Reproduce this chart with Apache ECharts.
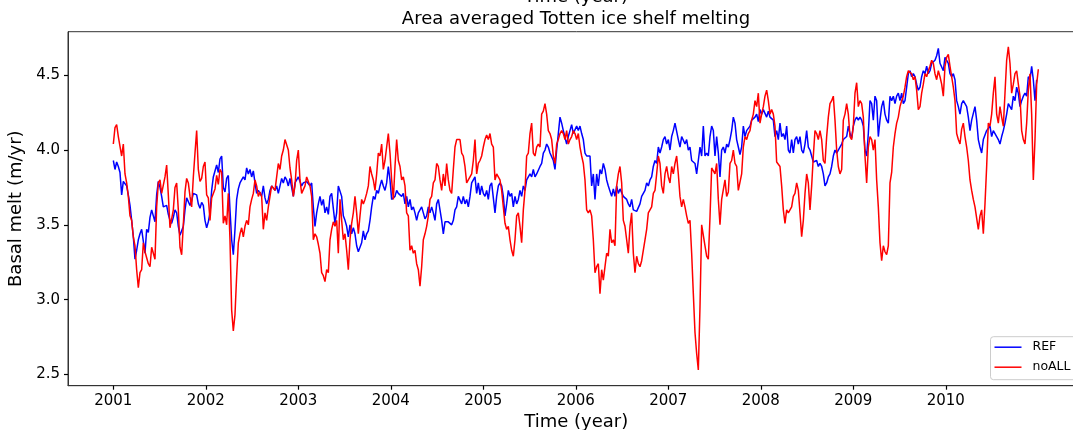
<!DOCTYPE html>
<html><head><meta charset="utf-8">
<script src="https://cdn.jsdelivr.net/npm/echarts@6/dist/echarts.min.js"></script>
<style>html,body{margin:0;padding:0;background:#fff;overflow:hidden;width:1073px;height:430px}#c{width:1095px;height:430px}</style>
</head><body><div id="c"></div>
<script>
// Sampling of the curves
const START_YEAR = 2001.0;
const STEP_YEARS = 1 / 55.5; // ~6.6 days between read samples

const refValues = [
3.93,3.87,3.92,3.89,3.85,3.70,3.79,3.80,3.76,3.70,
3.63,3.53,3.42,3.27,3.33,3.40,3.44,3.47,3.48,3.31,
3.47,3.45,3.55,3.60,3.56,3.52,3.70,3.79,3.75,3.69,
3.62,3.61,3.63,3.57,3.53,3.51,3.55,3.60,3.58,3.49,
3.43,3.42,3.49,3.60,3.68,3.69,3.63,3.66,3.71,3.72,
3.70,3.64,3.61,3.65,3.63,3.53,3.48,3.52,3.58,3.73,
3.82,3.86,3.90,3.85,
3.94,3.96,3.75,3.72,3.81,3.83,3.60,3.40,3.30,3.47,
3.67,3.74,3.78,3.77,3.82,3.80,3.88,3.84,3.87,3.82,
3.86,3.78,3.71,3.73,3.72,3.69,3.76,3.68,3.64,3.67,
3.73,3.76,3.77,3.73,3.76,3.71,3.76,3.81,3.78,3.82,
3.80,3.76,3.81,3.80,3.69,3.78,3.80,3.82,3.79,3.76,
3.78,3.77,3.79,3.78,3.76,3.78,3.62,3.49,3.58,3.64,
3.69,3.63,3.67,3.58,3.62,3.57,3.69,3.71,3.72,3.51,
3.58,3.76,
3.76,3.69,3.56,3.53,3.49,3.42,3.50,3.44,3.48,3.44,
3.36,3.32,3.33,3.38,3.46,3.40,3.44,3.46,3.53,3.62,
3.69,3.67,3.73,3.71,3.76,3.80,3.76,3.73,3.78,3.89,
3.80,3.67,3.66,3.69,3.73,3.71,3.72,3.69,3.71,3.64,
3.69,3.62,3.67,3.60,3.62,3.58,3.53,3.58,3.60,3.62,
3.58,3.54,3.56,3.62,3.58,3.62,3.58,3.53,3.64,3.67,
3.60,3.53,3.44,3.52,3.53,3.52,3.53,3.50,3.53,3.60,
3.62,3.69,
3.69,3.64,3.69,3.64,3.67,3.62,3.69,3.78,3.80,3.82,
3.71,3.78,3.70,3.76,3.71,3.69,3.73,3.67,3.76,3.78,
3.79,3.58,3.69,3.76,3.78,3.76,3.69,3.56,3.64,3.73,
3.69,3.71,3.62,3.69,3.64,3.67,3.73,3.69,3.76,3.73,
3.80,3.82,3.84,3.82,3.87,3.82,3.84,3.84,3.89,3.91,
3.98,4.00,4.04,4.02,3.98,3.97,3.93,3.87,4.00,4.11,
4.22,4.18,4.13,4.13,4.04,4.09,4.13,4.17,4.11,4.11,
4.16,4.13,
4.16,4.11,4.07,3.98,3.96,3.97,3.96,3.76,3.84,3.67,
3.84,3.76,3.87,3.84,3.91,3.87,3.80,3.76,3.76,3.69,
3.74,3.69,3.76,3.71,3.74,3.73,3.69,3.68,3.67,3.64,
3.62,3.67,3.60,3.60,3.59,3.59,3.64,3.69,3.71,3.73,
3.78,3.76,3.80,3.82,3.89,3.93,3.91,4.02,3.98,4.02,
4.07,4.09,4.04,4.07,4.00,4.09,4.13,4.18,4.19,4.07,
4.02,4.09,4.10,4.04,4.07,4.00,4.02,3.93,3.93,3.91,
3.84,3.93,
4.02,3.96,4.16,3.96,3.98,3.96,4.09,4.16,4.13,3.96,
4.09,3.98,3.82,4.00,4.02,3.98,4.04,4.02,4.07,4.13,
4.22,4.18,4.07,4.02,3.97,4.02,4.16,4.09,4.13,4.13,
4.16,4.20,4.20,4.22,4.24,4.19,4.27,4.24,4.27,4.28,
4.22,4.26,4.22,4.23,4.20,4.09,4.13,4.07,4.18,4.09,
4.11,4.07,4.16,4.00,3.98,4.07,3.98,4.07,4.09,4.04,
4.09,4.00,3.98,4.04,4.13,4.02,4.00,3.96,3.92,3.91,
3.93,3.89,
3.91,3.89,3.84,3.76,3.78,3.82,3.84,3.89,3.96,4.00,
3.98,4.00,4.02,4.04,4.07,4.08,4.09,4.16,4.11,4.08,
4.16,4.20,4.22,4.20,4.22,4.20,4.16,4.00,3.96,4.11,
4.33,4.31,4.20,4.36,4.33,4.09,4.20,4.29,4.33,4.24,
4.20,4.18,4.36,4.33,4.36,4.31,4.36,4.38,4.33,4.38,
4.31,4.33,4.42,4.51,4.53,4.49,4.51,4.49,4.44,4.40,
4.42,4.49,4.53,4.51,4.56,4.51,4.53,4.58,4.57,4.60,
4.63,4.68,
4.58,4.58,4.53,4.62,4.60,4.58,4.51,4.49,4.51,4.47,
4.33,4.29,4.24,4.31,4.33,4.31,4.29,4.22,4.13,4.20,
4.20,4.29,4.20,4.07,4.02,3.98,4.07,4.07,4.13,4.13,
4.16,4.09,4.13,4.11,4.09,4.07,4.04,4.09,4.13,4.18,
4.24,4.31,4.29,4.27,4.36,4.33,4.42,4.38,4.29,4.33,
4.36,4.38,4.36,4.49,4.47,4.56,4.47,4.33,4.47
];

const noallValues = [
4.04,4.15,4.17,4.09,4.08,3.96,4.04,3.84,3.78,3.69,
3.56,3.53,3.42,3.36,3.20,3.08,3.18,3.20,3.38,3.32,
3.31,3.24,3.22,3.35,3.34,3.27,3.62,3.78,3.80,3.71,
3.71,3.82,3.90,3.70,3.48,3.47,3.60,3.75,3.78,3.60,
3.35,3.30,3.50,3.72,3.81,3.78,3.69,3.62,3.82,3.98,
4.13,3.87,3.79,3.81,3.89,3.92,3.70,3.68,3.53,3.68,
3.69,3.74,3.83,3.77,
3.87,3.85,3.51,3.56,3.50,3.71,3.40,2.93,2.79,2.90,
3.16,3.38,3.44,3.48,3.42,3.49,3.53,3.50,3.62,3.67,
3.71,3.80,3.76,3.69,3.72,3.69,3.47,3.58,3.53,3.62,
3.69,3.76,3.76,3.73,3.82,3.91,3.87,3.96,4.00,4.07,
4.07,4.00,3.88,3.80,3.69,3.76,3.93,4.00,3.80,3.71,
3.72,3.76,3.82,3.83,3.76,3.69,3.40,3.44,3.42,3.37,
3.31,3.18,3.16,3.12,3.20,3.18,3.40,3.47,3.52,3.49,
3.53,3.31,
3.67,3.53,3.40,3.44,3.33,3.20,3.40,3.51,3.58,3.69,
3.58,3.44,3.56,3.67,3.64,3.67,3.71,3.76,3.89,3.84,
3.80,3.73,3.84,3.98,3.96,4.04,3.87,3.93,4.02,4.11,
3.98,3.80,3.67,3.89,4.07,3.93,3.89,3.80,3.82,3.76,
3.58,3.56,3.33,3.36,3.31,3.33,3.24,3.20,3.09,3.22,
3.40,3.44,3.49,3.56,3.67,3.69,3.78,3.80,3.91,3.89,
3.80,3.73,3.84,3.76,3.91,3.80,3.73,3.71,3.87,4.02,
4.07,4.08,
4.07,3.98,3.96,3.89,3.78,3.80,3.82,3.84,3.93,4.07,
3.84,3.91,3.93,3.96,4.02,4.07,4.10,4.07,4.11,4.04,
4.02,3.80,3.84,3.82,3.80,3.73,3.62,3.51,3.47,3.49,
3.40,3.33,3.29,3.40,3.56,3.58,3.49,3.38,3.60,3.73,
3.96,3.98,4.11,4.18,3.98,3.96,4.02,4.04,4.02,4.24,
4.26,4.31,4.24,4.13,4.11,4.07,3.96,3.91,4.04,4.07,
4.11,4.13,4.11,4.07,4.13,4.04,4.07,4.09,4.13,4.11,
4.07,4.11,
4.02,3.96,3.91,3.80,3.60,3.58,3.60,3.56,3.40,3.18,
3.22,3.24,3.04,3.20,3.13,3.22,3.31,3.29,3.47,3.38,
3.40,3.36,3.76,3.84,3.89,3.78,3.53,3.49,3.40,3.31,
3.49,3.58,3.31,3.18,3.29,3.24,3.22,3.26,3.27,3.40,
3.47,3.58,3.60,3.62,3.71,3.73,3.84,3.96,3.91,3.76,
3.71,3.84,3.89,3.82,3.78,3.89,3.84,3.91,3.96,3.84,
3.69,3.62,3.67,3.62,3.56,3.51,3.53,3.31,3.04,2.78,
2.64,2.53,
2.95,3.50,3.49,3.36,3.29,3.27,3.55,3.88,3.89,3.84,
3.91,3.67,3.50,3.67,3.67,3.80,3.69,3.72,3.91,3.93,
4.00,3.91,3.89,3.73,3.73,3.84,4.02,4.09,4.07,4.11,
4.13,4.20,4.24,4.33,4.29,4.38,4.18,4.24,4.29,4.36,
4.40,4.33,4.24,4.27,4.24,4.16,3.92,3.92,3.89,3.76,
3.60,3.51,3.60,3.58,3.60,3.62,3.69,3.71,3.78,3.73,
3.58,3.42,3.53,3.71,3.84,3.78,3.60,3.76,3.96,4.13,
4.11,4.07,
4.13,4.07,3.93,3.91,4.09,4.22,4.31,4.33,4.36,4.20,
4.00,3.89,3.84,3.87,4.20,4.24,4.31,4.24,4.09,4.07,
4.16,4.38,4.45,4.29,4.33,4.31,4.22,3.96,3.78,4.02,
4.09,4.07,4.00,4.07,3.80,3.62,3.38,3.26,3.36,3.32,
3.30,3.36,3.78,3.85,4.02,4.11,4.18,4.22,4.29,4.33,
4.36,4.42,4.49,4.53,4.53,4.51,4.47,4.49,4.40,4.27,
4.29,4.38,4.44,4.51,4.49,4.53,4.56,4.60,4.58,4.51,
4.47,4.53,
4.49,4.44,4.36,4.56,4.62,4.64,4.56,4.49,4.42,4.33,
4.11,4.07,4.04,4.14,4.18,4.09,4.02,3.93,3.80,3.73,
3.67,3.62,3.62,3.47,3.56,3.60,3.44,3.64,3.89,4.18,
4.16,4.24,4.38,4.49,4.24,4.18,4.29,4.22,4.16,4.38,
4.60,4.69,4.58,4.38,4.44,4.51,4.53,4.44,4.36,4.13,
4.07,4.04,4.18,4.40,4.51,4.24,3.80,4.07,4.44,4.54
];

const seriesNames = ['REF', 'noALL'];
const xTickYears = [2001, 2002, 2003, 2004, 2005, 2006, 2007, 2008, 2009, 2010];
const yTickValues = [2.5, 3.0, 3.5, 4.0, 4.5];

function toPairs(vals) {
  return vals.map((v, i) => [START_YEAR + i * STEP_YEARS, v]);
}

const FONT = 'DejaVu Sans';
const X_MIN = 2000.51, X_MAX = 2011.5;
const Y_MIN = 2.4245, Y_MAX = 4.791;

const chart = echarts.init(document.getElementById('c'), null, { renderer: 'canvas' });
chart.setOption({
  animation: false,
  backgroundColor: '#ffffff',
  title: [
    { text: 'Time (year)', left: 576, top: -12, textAlign: 'center', padding: 0,
      textStyle: { fontFamily: FONT, fontSize: 18, fontWeight: 'normal', color: '#000' } },
    { text: 'Area averaged Totten ice shelf melting', left: 576, top: 10, textAlign: 'center', padding: 0,
      textStyle: { fontFamily: FONT, fontSize: 18, fontWeight: 'normal', color: '#000' } }
  ],
  legend: {
    orient: 'vertical',
    left: 990.5, top: 336.7,
    padding: [3, 12, 5, 4],
    icon: 'rect',
    itemWidth: 27, itemHeight: 1.5, itemGap: 5,
    backgroundColor: 'rgba(255,255,255,0.8)',
    borderColor: '#cccccc', borderWidth: 1, borderRadius: 3,
    textStyle: { fontFamily: FONT, fontSize: 12.5, color: '#000', padding: [0, 0, 0, 6], lineHeight: 15 },
    data: seriesNames
  },
  grid: {
    left: 68, top: 31.7,
    width: (X_MAX - X_MIN) * 92.5, height: 354,
    outerBoundsMode: 'none',
    containLabel: false,
    show: true, borderColor: '#333', borderWidth: 1, backgroundColor: 'transparent'
  },
  xAxis: {
    type: 'value', min: X_MIN, max: X_MAX,
    name: 'Time (year)', nameLocation: 'middle', nameGap: 26,
    nameTextStyle: { fontFamily: FONT, fontSize: 18, color: '#000' },
    axisLine: { show: true, lineStyle: { color: '#333', width: 1 } },
    axisTick: { show: true, customValues: xTickYears, length: 4, lineStyle: { color: '#000', width: 1.2 } },
    axisLabel: { customValues: xTickYears, fontFamily: FONT, fontSize: 15, color: '#000', margin: 8,
      formatter: v => String(Math.round(v)) },
    splitLine: { show: false }
  },
  yAxis: {
    type: 'value', min: Y_MIN, max: Y_MAX,
    name: 'Basal melt (m/yr)', nameLocation: 'middle', nameGap: 32,
    nameTextStyle: { fontFamily: FONT, fontSize: 18, color: '#000' },
    axisLine: { show: true, lineStyle: { color: '#333', width: 1 } },
    axisTick: { show: true, customValues: yTickValues, length: 4, lineStyle: { color: '#000', width: 1.2 } },
    axisLabel: { customValues: yTickValues, fontFamily: FONT, fontSize: 15, color: '#000', margin: 8,
      formatter: v => v.toFixed(1) },
    splitLine: { show: false }
  },
  series: [
    { name: seriesNames[0], type: 'line', data: toPairs(refValues), symbol: 'none', showSymbol: false,
      lineStyle: { color: '#0000ff', width: 1.5 }, itemStyle: { color: '#0000ff' }, silent: true },
    { name: seriesNames[1], type: 'line', data: toPairs(noallValues), symbol: 'none', showSymbol: false,
      lineStyle: { color: '#ff0000', width: 1.5 }, itemStyle: { color: '#ff0000' }, silent: true }
  ]
});
</script>
</body></html>
